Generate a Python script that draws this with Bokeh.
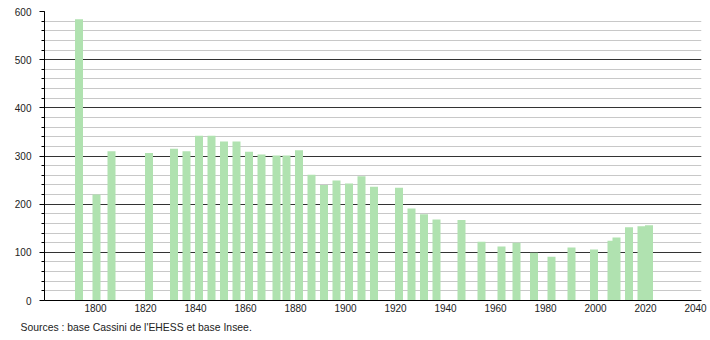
from bokeh.plotting import figure
from bokeh.models import ColumnDataSource, Range1d, SingleIntervalTicker, FixedTicker, Title
from bokeh.transform import dodge
from bokeh.embed import file_html
from bokeh.resources import INLINE

years = [1793, 1800, 1806, 1821, 1831, 1836, 1841, 1846, 1851, 1856,
         1861, 1866, 1872, 1876, 1881, 1886, 1891, 1896, 1901, 1906,
         1911, 1921, 1926, 1931, 1936, 1946, 1954, 1962, 1968, 1975,
         1982, 1990, 1999, 2006, 2008, 2013, 2018, 2021]
population = [584, 220, 310, 306, 315, 310, 342, 342, 330, 330,
              309, 303, 301, 301, 312, 261, 240, 249, 243, 258,
              236, 234, 191, 179, 168, 167, 122, 112, 120, 99,
              91, 110, 106, 124, 131, 152, 154, 156]
x_ticks = [1800, 1820, 1840, 1860, 1880, 1900, 1920, 1940, 1960, 1980, 2000, 2020, 2040]
source_text = "Sources : base Cassini de l'EHESS et base Insee."

FONT = "Liberation Sans"

src = ColumnDataSource(data=dict(x=years, top=population))

p = figure(width=710, height=340, output_backend="svg", toolbar_location=None,
           x_range=Range1d(1779.6, 2042.4), y_range=Range1d(0, 600),
           min_border_left=44, min_border_right=9, min_border_top=11,
           min_border_bottom=40)
p.outline_line_color = None
p.background_fill_color = "white"
p.border_fill_color = "white"

p.vbar(x=dodge("x", 0.4), top="top", width=3.2, bottom=0, source=src,
       fill_color="#b0e2b0", line_color=None)

# y axis
p.yaxis.ticker = SingleIntervalTicker(interval=100, num_minor_ticks=5)
p.yaxis.major_tick_out = 5
p.yaxis.major_tick_in = 0
p.yaxis.minor_tick_out = 3
p.yaxis.minor_tick_in = 0
p.yaxis.axis_line_color = "#000000"
p.yaxis.major_tick_line_color = "#000000"
p.yaxis.minor_tick_line_color = "#000000"
p.yaxis.major_label_text_font = FONT
p.yaxis.major_label_text_font_size = "10px"
p.yaxis.major_label_text_color = "#222222"
p.yaxis.major_label_standoff = 8

# x axis
p.xaxis.ticker = FixedTicker(ticks=x_ticks)
p.xaxis.major_tick_out = 0
p.xaxis.major_tick_in = 0
p.xaxis.minor_tick_line_color = None
p.xaxis.axis_line_color = "#000000"
p.xaxis.major_label_text_font = FONT
p.xaxis.major_label_text_font_size = "10px"
p.xaxis.major_label_text_color = "#222222"
p.xaxis.major_label_standoff = 3

# grid
p.xgrid.grid_line_color = None
p.ygrid.ticker = SingleIntervalTicker(interval=100, num_minor_ticks=5)
p.ygrid.grid_line_color = "#333333"
p.ygrid.grid_line_width = 1
p.ygrid.minor_grid_line_color = "#c8c8c8"
p.ygrid.minor_grid_line_width = 1

t = Title(text=source_text, align="left", offset=-24, text_font=FONT,
          text_font_size="10.4px", text_color="#222222", text_font_style="normal",
          standoff=11)
p.add_layout(t, "below")

open("out.html", "w").write(file_html(p, INLINE))
